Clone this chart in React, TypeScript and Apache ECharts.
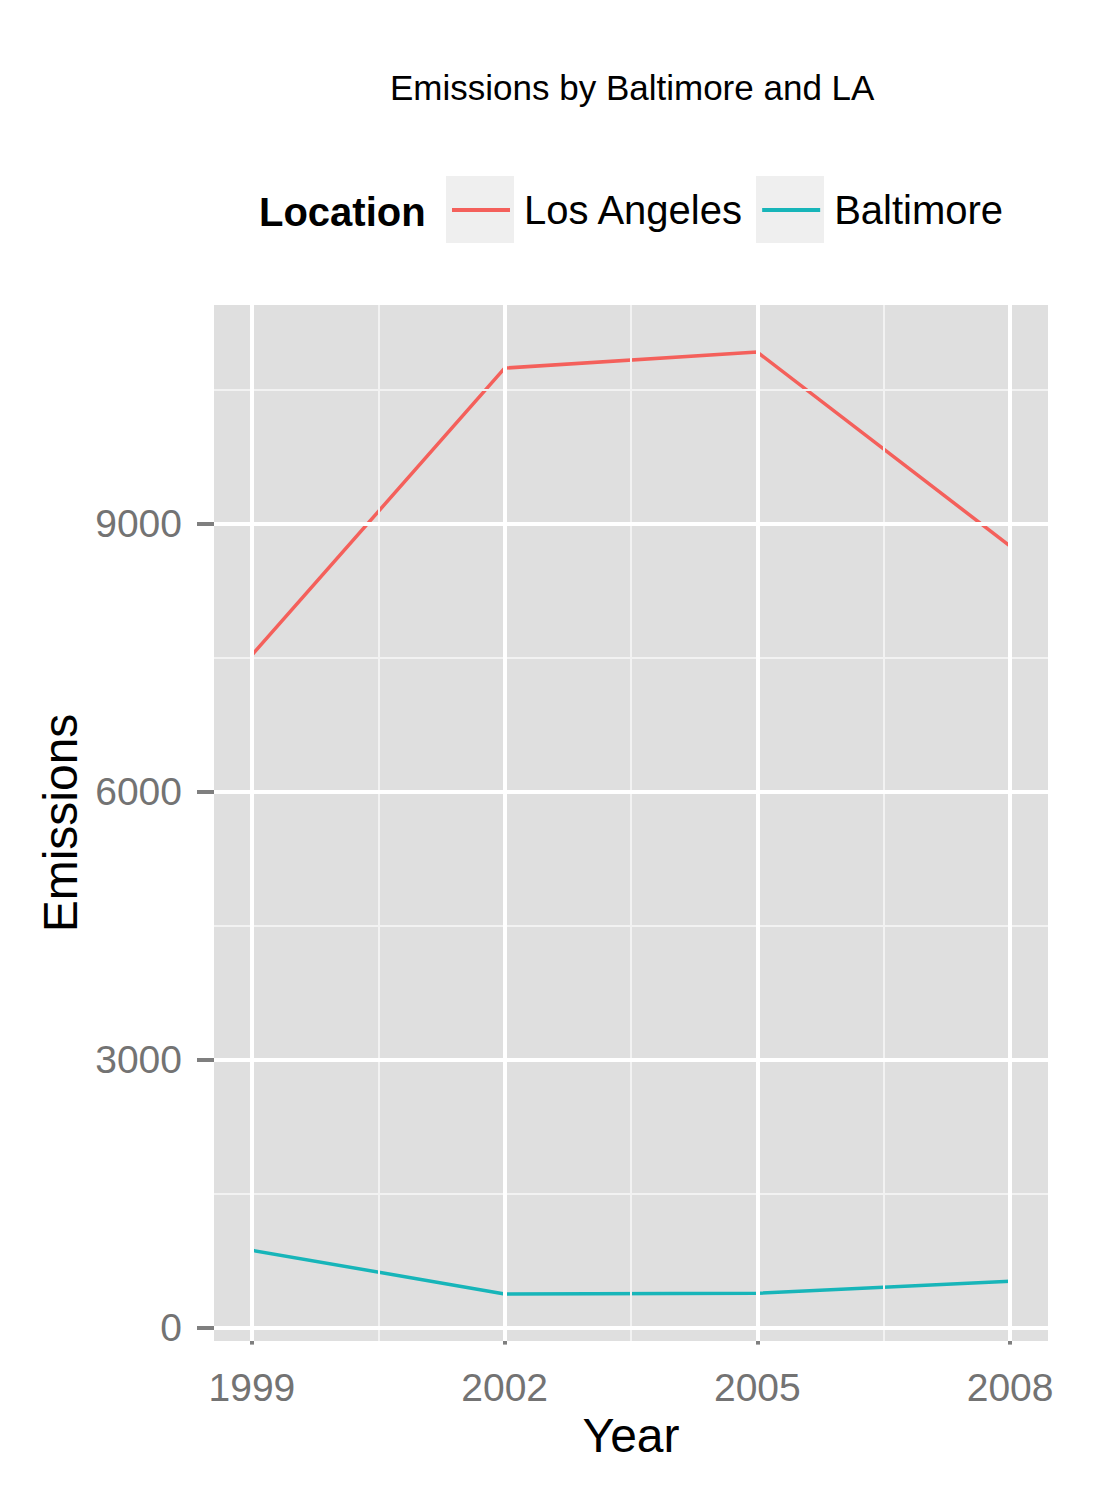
import React, { useEffect, useRef } from "react";
import * as echarts from "echarts";

const years = [1999, 2002, 2005, 2008];
const losAngeles = [7526, 10738, 10917, 8746];
const baltimore = [865, 377, 384, 518];
const yTickValues = [0, 3000, 6000, 9000];
const yMinorValues = [1500, 4500, 7500, 10500];
const xMinorValues = [2000.5, 2003.5, 2006.5];
const seriesNames = ["Los Angeles", "Baltimore"];

const FONT = "'Liberation Sans', Arial, Helvetica, sans-serif";

export default function App() {
  const ref = useRef<HTMLDivElement>(null);

  useEffect(() => {
    if (!ref.current) return;
    const chart = echarts.init(ref.current, null, { renderer: "svg" });

    const allVals = [...losAngeles, ...baltimore];
    const dMin = Math.min(...allVals);
    const dMax = Math.max(...allVals);
    const rng = dMax - dMin;
    const yMin = dMin - 0.05 * rng;
    const yMax = dMax + 0.05 * rng;
    const xR = years[years.length - 1] - years[0];
    const xMin = years[0] - 0.05 * xR;
    const xMax = years[years.length - 1] + 0.05 * xR;

    const labelColor = "#737373";

    const option: any = {
      animation: false,
      backgroundColor: "#ffffff",
      textStyle: { fontFamily: FONT },
      title: [
        {
          text: "Emissions by Baltimore and LA",
          left: 390,
          top: 70,
          padding: 0,
          textStyle: { fontSize: 35, lineHeight: 35, fontWeight: "normal", color: "#000", fontFamily: FONT },
        },
        {
          text: "Location",
          left: 259,
          top: 192,
          padding: 0,
          textStyle: { fontSize: 40, lineHeight: 40, fontWeight: "bold", color: "#000", fontFamily: FONT },
        },
      ],
      legend: {
        data: seriesNames,
        left: 452,
        top: 190,
        padding: 0,
        itemWidth: 58,
        itemHeight: 4,
        itemGap: 18,
        icon: "rect",
        textStyle: { fontSize: 40, lineHeight: 40, color: "#000", fontFamily: FONT, padding: [0, 0, 0, 9] },
      },
      graphic: [
        { type: "rect", z: 1, shape: { x: 446, y: 176, width: 68, height: 67 }, style: { fill: "#EFEFEF" } },
        { type: "rect", z: 1, shape: { x: 756, y: 176, width: 68, height: 67 }, style: { fill: "#EFEFEF" } },
      ],
      grid: {
        left: 214,
        top: 305,
        width: 834,
        height: 1036,
        show: true,
        backgroundColor: "#DFDFDF",
        borderWidth: 0,
        containLabel: false,
        outerBoundsMode: "none",
      },
      xAxis: {
        type: "value",
        min: xMin,
        max: xMax,
        name: "Year",
        nameLocation: "middle",
        nameGap: 64,
        nameTextStyle: { fontSize: 48, color: "#000", fontFamily: FONT },
        axisLine: { show: false },
        splitLine: { show: false },
        axisTick: {
          show: true,
          customValues: years,
          length: 17,
          lineStyle: { color: "#7F7F7F", width: 4 },
        },
        axisLabel: {
          customValues: years,
          margin: 27,
          fontSize: 39,
          color: labelColor,
          fontFamily: FONT,
          formatter: (v: number) => String(v),
        },
      },
      yAxis: {
        type: "value",
        min: yMin,
        max: yMax,
        name: "Emissions",
        nameLocation: "middle",
        nameGap: 130,
        nameRotate: 90,
        nameTextStyle: { fontSize: 48, color: "#000", fontFamily: FONT },
        axisLine: { show: false },
        splitLine: { show: false },
        axisTick: {
          show: true,
          customValues: yTickValues,
          length: 17,
          lineStyle: { color: "#7F7F7F", width: 4 },
        },
        axisLabel: {
          customValues: yTickValues,
          margin: 32,
          fontSize: 39,
          color: labelColor,
          fontFamily: FONT,
          formatter: (v: number) => String(v),
        },
      },
      series: [
        {
          type: "line",
          data: [],
          silent: true,
          z: 1,
          markLine: {
            silent: true,
            symbol: "none",
            animation: false,
            label: { show: false },
            data: [
              ...yMinorValues.map((v) => ({ yAxis: v, lineStyle: { color: "#F2F2F2", width: 2, type: "solid" } })),
              ...xMinorValues.map((v) => ({ xAxis: v, lineStyle: { color: "#F2F2F2", width: 2, type: "solid" } })),
              ...yTickValues.map((v) => ({ yAxis: v, lineStyle: { color: "#FFFFFF", width: 4, type: "solid" } })),
              ...years.map((v) => ({ xAxis: v, lineStyle: { color: "#FFFFFF", width: 4, type: "solid" } })),
            ],
          },
        },
        {
          name: seriesNames[0],
          type: "line",
          data: years.map((y, i) => [y, losAngeles[i]]),
          showSymbol: false,
          z: 3,
          color: "#F4605B",
          lineStyle: { width: 3.5, color: "#F4605B" },
        },
        {
          name: seriesNames[1],
          type: "line",
          data: years.map((y, i) => [y, baltimore[i]]),
          showSymbol: false,
          z: 3,
          color: "#17B5B9",
          lineStyle: { width: 3.5, color: "#17B5B9" },
        },
      ],
    };

    chart.setOption(option);
    return () => chart.dispose();
  }, []);

  return (
    <div
      ref={ref}
      style={{ position: "fixed", left: 0, top: 0, width: 1108, height: 1495, background: "#fff" }}
    />
  );
}
